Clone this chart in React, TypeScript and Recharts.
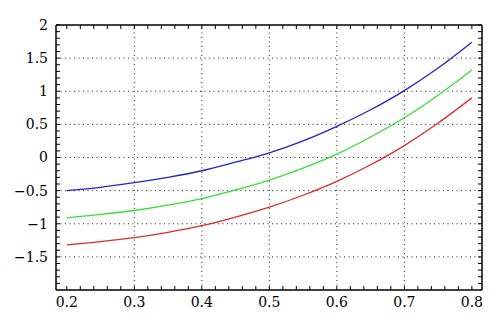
import { LineChart, Line, XAxis, YAxis, ReferenceLine } from "recharts";

const xs = [0.2, 0.25, 0.3, 0.35, 0.4, 0.45, 0.5, 0.55, 0.6, 0.65, 0.7, 0.75, 0.8];
const blue = [-0.5, -0.45, -0.38, -0.3, -0.2, -0.07, 0.07, 0.25, 0.47, 0.72, 1.01, 1.35, 1.74];
const green = [-0.91, -0.86, -0.8, -0.72, -0.62, -0.49, -0.34, -0.16, 0.05, 0.31, 0.6, 0.94, 1.32];
const red = [-1.32, -1.27, -1.21, -1.13, -1.03, -0.9, -0.75, -0.57, -0.36, -0.11, 0.18, 0.52, 0.9];

const xTicks = [
  0.2, 0.22, 0.24, 0.26, 0.28, 0.3, 0.32, 0.34, 0.36, 0.38, 0.4, 0.42, 0.44, 0.46, 0.48, 0.5,
  0.52, 0.54, 0.56, 0.58, 0.6, 0.62, 0.64, 0.66, 0.68, 0.7, 0.72, 0.74, 0.76, 0.78, 0.8,
];
const yTicks = [
  -1.9, -1.8, -1.7, -1.6, -1.5, -1.4, -1.3, -1.2, -1.1, -1, -0.9, -0.8, -0.7, -0.6, -0.5, -0.4,
  -0.3, -0.2, -0.1, 0, 0.1, 0.2, 0.3, 0.4, 0.5, 0.6, 0.7, 0.8, 0.9, 1, 1.1, 1.2, 1.3, 1.4, 1.5,
  1.6, 1.7, 1.8, 1.9, 2,
];
const xGrid = [0.3, 0.4, 0.5, 0.6, 0.7];
const yGrid = [-1.5, -1, -0.5, 0, 0.5, 1, 1.5];

const data = xs.map((x, i) => ({ x, blue: blue[i], green: green[i], red: red[i] }));

const FONT = "'DejaVu Serif', serif";
const labelStyle = { fontFamily: FONT, fontSize: 14, fill: "#000" };
const tickStroke = { stroke: "#000", strokeWidth: 1 };
const frame = { stroke: "#000", strokeWidth: 1.5 };

const majorX = (v: number) => Math.abs(v * 10 - Math.round(v * 10)) < 1e-6;
const majorY = (v: number) => Math.abs(v * 2 - Math.round(v * 2)) < 1e-6;
const fmtX = (v: number) => (majorX(v) ? v.toFixed(1) : "");
const fmtY = (v: number) =>
  majorY(v) ? (Number.isInteger(v) ? String(v) : v.toFixed(1)).replace("-", "\u2212") : "";
const blank = () => "";

export default function App() {
  return (
    <div style={{ width: 500, height: 331, background: "#fff" }}>
      <style>{"body{margin:0}"}</style>
      <LineChart width={500} height={331} data={data} margin={{ top: 24, right: 17, bottom: 0, left: 0 }}>
        <XAxis
          xAxisId="b"
          dataKey="x"
          type="number"
          domain={[0.184, 0.815]}
          allowDataOverflow
          ticks={xTicks}
          interval={0}
          tickSize={-4}
          tickMargin={11}
          height={41}
          axisLine={frame}
          tickLine={tickStroke}
          tick={labelStyle}
          tickFormatter={fmtX}
        />
        <XAxis
          xAxisId="t"
          dataKey="x"
          type="number"
          orientation="top"
          domain={[0.184, 0.815]}
          allowDataOverflow
          ticks={xTicks}
          interval={0}
          tickSize={-4}
          tickMargin={0}
          height={1}
          axisLine={frame}
          tickLine={tickStroke}
          tickFormatter={blank}
        />
        <YAxis
          yAxisId="l"
          type="number"
          domain={[-2, 2]}
          allowDataOverflow
          ticks={yTicks}
          interval={0}
          tickSize={-4}
          tickMargin={12}
          width={56}
          axisLine={frame}
          tickLine={tickStroke}
          tick={labelStyle}
          tickFormatter={fmtY}
        />
        <YAxis
          yAxisId="r"
          orientation="right"
          type="number"
          domain={[-2, 2]}
          allowDataOverflow
          ticks={yTicks}
          interval={0}
          tickSize={-4}
          tickMargin={0}
          width={1}
          axisLine={frame}
          tickLine={tickStroke}
          tickFormatter={blank}
        />
        {xGrid.map((v) => (
          <ReferenceLine key={"gx" + v} x={v} xAxisId="b" yAxisId="l" stroke="#222" strokeWidth={1} strokeDasharray="1 3.5" />
        ))}
        {yGrid.map((v) => (
          <ReferenceLine key={"gy" + v} y={v} xAxisId="b" yAxisId="l" stroke="#222" strokeWidth={1} strokeDasharray="1 3.5" />
        ))}
        {/* invisible series so the top and right frame axes get drawn */}
        <Line xAxisId="t" yAxisId="r" dataKey="blue" stroke="none" dot={false} activeDot={false} isAnimationActive={false} />
        <Line xAxisId="b" yAxisId="l" type="monotone" dataKey="blue" stroke="#2222cc" strokeWidth={1.3} dot={false} isAnimationActive={false} />
        <Line xAxisId="b" yAxisId="l" type="monotone" dataKey="green" stroke="#33e033" strokeWidth={1.3} dot={false} isAnimationActive={false} />
        <Line xAxisId="b" yAxisId="l" type="monotone" dataKey="red" stroke="#dd2b2b" strokeWidth={1.3} dot={false} isAnimationActive={false} />
      </LineChart>
    </div>
  );
}
